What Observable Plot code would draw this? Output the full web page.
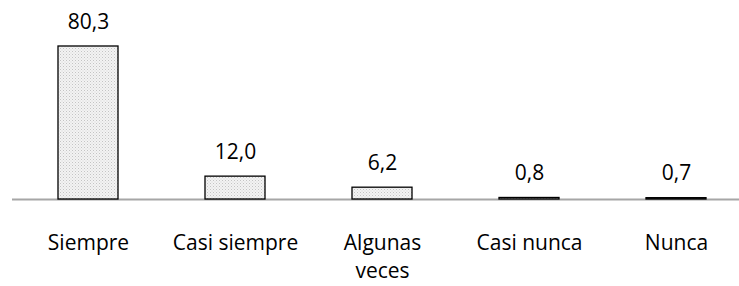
<!DOCTYPE html>
<html><head><meta charset="utf-8">
<script src="https://cdn.jsdelivr.net/npm/d3@7"></script>
<script src="https://cdn.jsdelivr.net/npm/@observablehq/plot@0.6"></script>
<style>body{margin:0;background:#fff}</style>
</head><body><div id="chart"></div>
<script>
const categories = ["Siempre", "Casi siempre", "Algunas\nveces", "Casi nunca", "Nunca"];
const values = [80.3, 12.0, 6.2, 0.8, 0.7];
const valueLabels = ["80,3", "12,0", "6,2", "0,8", "0,7"];
const data = categories.map((c, i) => ({cat: c, value: values[i], label: valueLabels[i]}));

const font = "'Open Sans', sans-serif";
const chart = Plot.plot({
  width: 739, height: 286,
  marginLeft: 12, marginRight: 0, marginTop: 0, marginBottom: 0,
  style: {fontFamily: font, fontSize: "21px", background: "#fff"},
  x: {domain: categories, range: [12, 751], paddingInner: 0.595, paddingOuter: 0.2975, axis: null},
  y: {domain: [0, 80.3], range: [199, 46], axis: null},
  marks: [
    Plot.ruleY([0], {stroke: "#a6a6a6", strokeWidth: 2}),
    Plot.barY(data, {x: "cat", y: "value", fill: "url(#dots)", stroke: "#000", strokeWidth: 1.3}),
    Plot.text(data, {x: "cat", y: "value", text: "label", lineAnchor: "bottom", dy: -18, fontSize: 21, fill: "#000"}),
    Plot.text(data, {x: "cat", y: 0, text: "cat", lineAnchor: "top", dy: 31, fontSize: 21, lineHeight: 1.33, fill: "#000"})
  ]
});
document.getElementById("chart").appendChild(chart);
const svg = d3.select(chart);
const defs = svg.insert("defs", ":first-child");
const p = defs.append("pattern").attr("id", "dots").attr("patternUnits", "userSpaceOnUse").attr("width", 3).attr("height", 3);
p.append("rect").attr("width", 3).attr("height", 3).attr("fill", "#f3f3f3");
p.append("rect").attr("x", 0).attr("y", 0).attr("width", 1).attr("height", 1).attr("fill", "#c4c4c4");
p.append("rect").attr("x", 1.5).attr("y", 1.5).attr("width", 1).attr("height", 1).attr("fill", "#d6d6d6");
</script>
</body></html>
